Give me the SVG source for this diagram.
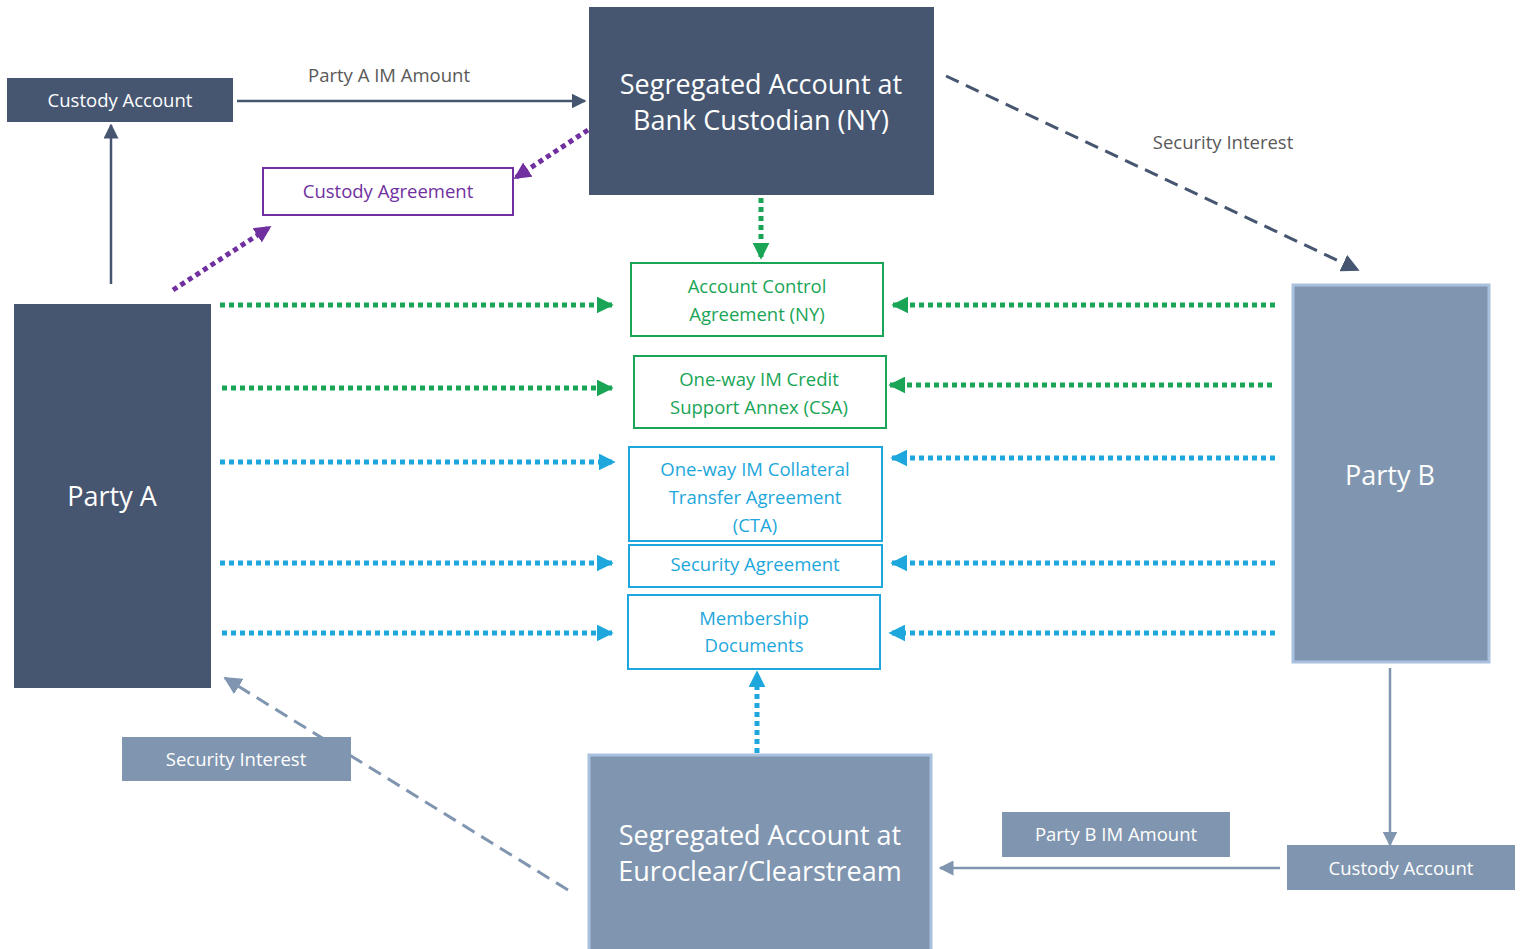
<svg xmlns="http://www.w3.org/2000/svg" width="1521" height="949" viewBox="0 0 1521 949">
<style>
text{font-family:"Open Sans","Noto Sans","Liberation Sans",sans-serif;text-anchor:middle}
.dark{fill:#465670}
.light{fill:#8096b0;stroke:#a9c1de;stroke-width:3}
.lightf{fill:#8096b0}
.wt{fill:#ffffff}
.big{font-size:27px}
.sm{font-size:18.5px}
.gbox{fill:#fff;stroke:#1aa556;stroke-width:2}
.bbox{fill:#fff;stroke:#1ea7dc;stroke-width:2}
.gt{fill:#1aa556}
.bt{fill:#1ea7dc}
.solid{stroke:#465670;stroke-width:2.5;fill:none}
.solidl{stroke:#8096b0;stroke-width:2.5;fill:none}
.gdot{stroke:#1aa556;stroke-width:5;stroke-dasharray:5 4;fill:none}
.bdot{stroke:#1ea7dc;stroke-width:5;stroke-dasharray:5 4;fill:none}
.pdot{stroke:#7030a0;stroke-width:5;stroke-dasharray:5 4;fill:none}
.dash{stroke:#465670;stroke-width:3;stroke-dasharray:14 8;fill:none}
.dashl{stroke:#8096b0;stroke-width:3;stroke-dasharray:14 8;fill:none}
</style>
<defs>
<marker id="aD" viewBox="0 0 10 10" refX="9" refY="5" markerWidth="6" markerHeight="6" markerUnits="strokeWidth" orient="auto"><path d="M0,0 L10,5 L0,10 z" fill="#465670"/></marker>
<marker id="aL" viewBox="0 0 10 10" refX="9" refY="5" markerWidth="6" markerHeight="6" markerUnits="strokeWidth" orient="auto"><path d="M0,0 L10,5 L0,10 z" fill="#8096b0"/></marker>
<marker id="aG" viewBox="0 0 10 10" refX="9" refY="5" markerWidth="3.4" markerHeight="3.4" markerUnits="strokeWidth" orient="auto"><path d="M0,0 L10,5 L0,10 z" fill="#1aa556"/></marker>
<marker id="aB" viewBox="0 0 10 10" refX="9" refY="5" markerWidth="3.4" markerHeight="3.4" markerUnits="strokeWidth" orient="auto"><path d="M0,0 L10,5 L0,10 z" fill="#1ea7dc"/></marker>
<marker id="aP" viewBox="0 0 10 10" refX="9" refY="5" markerWidth="3.4" markerHeight="3.4" markerUnits="strokeWidth" orient="auto"><path d="M0,0 L10,5 L0,10 z" fill="#7030a0"/></marker>
</defs>
<rect width="1521" height="949" fill="#ffffff"/>

<g id="connectors">
<line class="solid" x1="237" y1="101" x2="585" y2="101" marker-end="url(#aD)"/>
<text x="389" y="82" class="sm" fill="#595959">Party A IM Amount</text>
<line class="solid" x1="111" y1="284" x2="111" y2="125" marker-end="url(#aD)"/>
<line class="pdot" x1="173" y1="290" x2="270" y2="227" marker-end="url(#aP)"/>
<line class="pdot" x1="588" y1="130" x2="515" y2="178" marker-end="url(#aP)"/>
<line class="gdot" x1="761" y1="198" x2="761" y2="258" marker-end="url(#aG)"/>
<line class="dash" x1="946" y1="76" x2="1358" y2="270" marker-end="url(#aD)"/>
<text x="1223" y="149" class="sm" fill="#595959">Security Interest</text>
<line class="gdot" x1="220" y1="305" x2="612" y2="305" marker-end="url(#aG)"/>
<line class="gdot" x1="1275" y1="305" x2="893" y2="305" marker-end="url(#aG)"/>
<line class="gdot" x1="222" y1="388" x2="612" y2="388" marker-end="url(#aG)"/>
<line class="gdot" x1="1272" y1="385" x2="890" y2="385" marker-end="url(#aG)"/>
<line class="bdot" x1="220" y1="462" x2="614" y2="462" marker-end="url(#aB)"/>
<line class="bdot" x1="1275" y1="458" x2="892" y2="458" marker-end="url(#aB)"/>
<line class="bdot" x1="220" y1="563" x2="612" y2="563" marker-end="url(#aB)"/>
<line class="bdot" x1="1275" y1="563" x2="892" y2="563" marker-end="url(#aB)"/>
<line class="bdot" x1="222" y1="633" x2="612" y2="633" marker-end="url(#aB)"/>
<line class="bdot" x1="1275" y1="633" x2="890" y2="633" marker-end="url(#aB)"/>
<line class="bdot" x1="757" y1="753" x2="757" y2="672" marker-end="url(#aB)"/>
<line class="dashl" x1="568" y1="890" x2="225" y2="678" marker-end="url(#aL)"/>
<line class="solidl" x1="1390" y1="668" x2="1390" y2="845" marker-end="url(#aL)"/>
<line class="solidl" x1="1280" y1="868" x2="940" y2="868" marker-end="url(#aL)"/>
</g>

<g id="custody-account-a"><rect class="dark" x="7" y="78" width="226" height="44"/><text class="wt sm" x="120" y="107">Custody Account</text></g>
<g id="seg-ny"><rect class="dark" x="589" y="7" width="345" height="188"/><text class="wt big" x="761" y="94">Segregated Account at</text><text class="wt big" x="761" y="130">Bank Custodian (NY)</text></g>
<g id="custody-agreement"><rect x="263" y="168" width="250" height="47" fill="#fff" stroke="#7030a0" stroke-width="2"/><text class="sm" fill="#7030a0" x="388" y="198">Custody Agreement</text></g>
<g id="party-a"><rect class="dark" x="14" y="304" width="197" height="384"/><text class="wt big" x="112" y="506">Party A</text></g>
<g id="party-b"><rect class="light" x="1293" y="285" width="196" height="377"/><text class="wt big" x="1390" y="485">Party B</text></g>
<g id="aca"><rect class="gbox" x="631" y="263" width="252" height="73"/><text class="gt sm" x="757" y="293">Account Control</text><text class="gt sm" x="757" y="321">Agreement (NY)</text></g>
<g id="csa"><rect class="gbox" x="634" y="356" width="252" height="72"/><text class="gt sm" x="759" y="386">One-way IM Credit</text><text class="gt sm" x="759" y="414">Support Annex (CSA)</text></g>
<g id="cta"><rect class="bbox" x="629" y="447" width="253" height="94"/><text class="bt sm" x="755" y="476">One-way IM Collateral</text><text class="bt sm" x="755" y="504">Transfer Agreement</text><text class="bt sm" x="755" y="532">(CTA)</text></g>
<g id="security-agreement"><rect class="bbox" x="629" y="545" width="253" height="42"/><text class="bt sm" x="755" y="571">Security Agreement</text></g>
<g id="membership"><rect class="bbox" x="628" y="595" width="252" height="74"/><text class="bt sm" x="754" y="625">Membership</text><text class="bt sm" x="754" y="652">Documents</text></g>
<g id="seg-euroclear"><rect class="light" x="589" y="755" width="342" height="200"/><text class="wt big" x="760" y="845">Segregated Account at</text><text class="wt big" x="760" y="881">Euroclear/Clearstream</text></g>
<g id="security-interest-b"><rect class="lightf" x="122" y="737" width="229" height="44"/><text class="wt sm" x="236" y="766">Security Interest</text></g>
<g id="party-b-im-amount"><rect class="lightf" x="1002" y="812" width="228" height="45"/><text class="wt sm" x="1116" y="841">Party B IM Amount</text></g>
<g id="custody-account-b"><rect class="lightf" x="1287" y="845" width="228" height="45"/><text class="wt sm" x="1401" y="875">Custody Account</text></g>
</svg>
